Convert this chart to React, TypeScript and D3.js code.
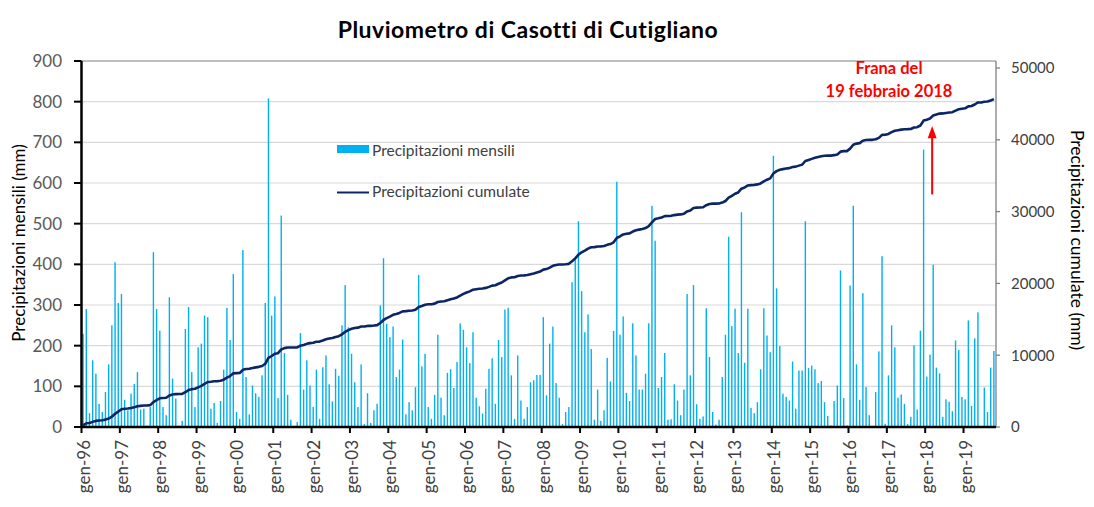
import React from "react";
import * as d3 from "d3";

// Monthly precipitation (mm), Jan 1996 – Oct 2019
const y1996 = [229, 290, 34, 164, 131, 57, 37, 86, 154, 250, 405, 305];
const y1997 = [327, 67, 41, 82, 106, 135, 43, 45, 4, 49, 430, 290];
const y1998 = [237, 49, 29, 319, 119, 70, 4, 15, 241, 295, 135, 49];
const y1999 = [196, 205, 274, 270, 45, 59, 10, 64, 141, 293, 214, 376];
const y2000 = [37, 20, 435, 123, 31, 102, 83, 74, 127, 305, 808, 274];
const y2001 = [321, 71, 520, 182, 79, 18, 2, 12, 231, 92, 164, 102];
const y2002 = [49, 141, 20, 147, 176, 105, 63, 143, 126, 250, 349, 245];
const y2003 = [180, 110, 49, 154, 7, 83, 10, 41, 57, 299, 415, 254];
const y2004 = [221, 247, 123, 141, 215, 31, 61, 41, 98, 374, 149, 180];
const y2005 = [49, 20, 79, 227, 72, 29, 133, 142, 96, 160, 255, 239];
const y2006 = [196, 157, 233, 72, 51, 33, 94, 143, 169, 57, 214, 172];
const y2007 = [289, 293, 127, 20, 176, 65, 20, 49, 110, 115, 128, 128];
const y2008 = [270, 78, 205, 247, 108, 72, 7, 37, 49, 356, 413, 506];
const y2009 = [334, 233, 277, 192, 18, 92, 15, 41, 170, 112, 236, 603];
const y2010 = [227, 272, 84, 64, 255, 176, 92, 92, 131, 255, 544, 458];
const y2011 = [96, 123, 182, 18, 19, 105, 65, 29, 92, 327, 127, 349];
const y2012 = [56, 20, 26, 292, 172, 37, 6, 18, 123, 227, 468, 248];
const y2013 = [291, 182, 528, 158, 291, 47, 34, 61, 142, 292, 225, 184];
const y2014 = [667, 341, 199, 82, 74, 65, 161, 45, 139, 139, 506, 145];
const y2015 = [151, 142, 108, 113, 61, 27, 4, 64, 102, 385, 71, 4];
const y2016 = [348, 544, 154, 67, 329, 98, 29, 0, 86, 186, 420, 8];
const y2017 = [127, 250, 196, 72, 80, 57, 7, 25, 201, 43, 237, 682];
const y2018 = [124, 178, 399, 146, 132, 25, 68, 62, 39, 213, 189, 74];
const y2019 = [68, 262, 52, 218, 282, 0, 97, 37, 146, 187];

const monthly: number[] = [
  ...y1996, ...y1997, ...y1998, ...y1999, ...y2000, ...y2001, ...y2002, ...y2003,
  ...y2004, ...y2005, ...y2006, ...y2007, ...y2008, ...y2009, ...y2010, ...y2011,
  ...y2012, ...y2013, ...y2014, ...y2015, ...y2016, ...y2017, ...y2018, ...y2019,
];

// cumulative precipitation = running sum of monthly values
const cumulative: number[] = Array.from(d3.cumsum(monthly));

const yearLabels = [
  "gen-96", "gen-97", "gen-98", "gen-99", "gen-00", "gen-01", "gen-02", "gen-03",
  "gen-04", "gen-05", "gen-06", "gen-07", "gen-08", "gen-09", "gen-10", "gen-11",
  "gen-12", "gen-13", "gen-14", "gen-15", "gen-16", "gen-17", "gen-18", "gen-19",
];
const leftTicks = [0, 100, 200, 300, 400, 500, 600, 700, 800, 900];
const rightTicks = [0, 10000, 20000, 30000, 40000, 50000];

const title = "Pluviometro di Casotti di Cutigliano";
const legendLabels = ["Precipitazioni mensili", "Precipitazioni cumulate"];
const annotationLines = ["Frana del", "19 febbraio 2018"];
const landslideMonth = 265 + 19 / 28; // 19 Feb 2018 as month index

const W = 1094;
const H = 507;
const FONT = "Lato, 'Open Sans', 'Liberation Sans', sans-serif";
const BAR = "#00B0F0";
const LINE = "#0B2565";

export default function App() {
  const left = 81.5;
  const right = 996;
  const top = 61;
  const bottom = 427;

  const nMonths = monthly.length; // 286
  const x = d3.scaleLinear().domain([0, nMonths]).range([left, right - 0.5]);
  const yL = d3.scaleLinear().domain([0, 900]).range([bottom, top]);
  const yR = d3.scaleLinear().domain([0, 50000]).range([bottom, 68]);

  const line = d3
    .line<number>()
    .x((_, i) => x(i + 0.5))
    .y((d) => yR(d));

  const bw = 1.4;
  const ax = x(landslideMonth + 0.5);

  return (
    <svg
      width={W}
      height={H}
      viewBox={`0 0 ${W} ${H}`}
      style={{ position: "absolute", left: 0, top: 0, background: "#fff" }}
      fontFamily={FONT}
    >
      <rect x={0} y={0} width={W} height={H} fill="#fff" />
      <text x={528} y={38} textAnchor="middle" fontSize={23} fontWeight="bold" letterSpacing={0.5} fill="#000">
        {title}
      </text>

      {/* gridlines */}
      {leftTicks.slice(1, -1).map((t) => (
        <line key={"g" + t} x1={left} x2={right} y1={yL(t)} y2={yL(t)} stroke="#d9d9d9" strokeWidth={1.2} />
      ))}
      {/* top border */}
      <line x1={left} x2={right} y1={top} y2={top} stroke="#808080" strokeWidth={1.2} />

      {/* bars */}
      {monthly.map((v, i) => (
        <rect key={"b" + i} x={x(i + 0.5) - bw / 2} y={yL(v)} width={bw} height={bottom - yL(v)} fill={BAR} />
      ))}

      {/* cumulative line */}
      <path d={line(cumulative) || ""} fill="none" stroke={LINE} strokeWidth={2.6} strokeLinejoin="round" />

      {/* left axis */}
      <line x1={left} x2={left} y1={top} y2={bottom + 1} stroke="#000" strokeWidth={2.5} />
      {leftTicks.map((t) => (
        <g key={"l" + t}>
          <line x1={74} x2={left} y1={yL(t)} y2={yL(t)} stroke="#000" strokeWidth={2} />
          <text x={62} y={yL(t)} dy="0.36em" textAnchor="end" fontSize={17} fill="#595959">
            {t}
          </text>
        </g>
      ))}

      {/* right axis */}
      <line x1={right} x2={right} y1={top} y2={bottom} stroke="#808080" strokeWidth={1.3} />
      {rightTicks.map((t) => (
        <g key={"r" + t}>
          <line x1={right} x2={right + 4} y1={yR(t)} y2={yR(t)} stroke="#808080" strokeWidth={1.3} />
          <text x={1011} y={yR(t)} dy="0.36em" textAnchor="start" fontSize={15} fill="#404040">
            {t}
          </text>
        </g>
      ))}

      {/* bottom axis */}
      <line x1={left - 1} x2={right} y1={bottom} y2={bottom} stroke="#000" strokeWidth={2.5} />
      {yearLabels.map((lab, k) => {
        const tx = x(k * 12);
        return (
          <g key={"x" + k}>
            <line x1={tx} x2={tx} y1={bottom} y2={bottom + 6} stroke="#000" strokeWidth={2} />
            <text
              transform={`translate(${tx + 8},${bottom + 13}) rotate(-90)`}
              textAnchor="end"
              fontSize={17}
              fill="#404040"
            >
              {lab}
            </text>
          </g>
        );
      })}

      {/* axis titles */}
      <text transform={`translate(25,243) rotate(-90)`} textAnchor="middle" fontSize={17} fill="#000">
        Precipitazioni mensili (mm)
      </text>
      <text transform={`translate(1071,240) rotate(90)`} textAnchor="middle" fontSize={17.5} fill="#000">
        Precipitazioni cumulate (mm)
      </text>

      {/* legend */}
      <rect x={337} y={145} width={32} height={8} fill={BAR} />
      <text x={372} y={156} fontSize={15.5} fill="#404040">
        {legendLabels[0]}
      </text>
      <line x1={337} x2={369} y1={192.5} y2={192.5} stroke={LINE} strokeWidth={2} />
      <text x={372} y={197} fontSize={15.5} fill="#404040">
        {legendLabels[1]}
      </text>

      {/* annotation */}
      <text x={889} y={74} textAnchor="middle" fontSize={16.5} fontWeight="bold" fill="#FF0000">
        {annotationLines[0]}
      </text>
      <text x={889} y={96.5} textAnchor="middle" fontSize={16.5} fontWeight="bold" fill="#FF0000">
        {annotationLines[1]}
      </text>
      <line x1={ax} x2={ax} y1={yL(572)} y2={yL(712)} stroke="#FF0000" strokeWidth={2} />
      <path
        d={`M${ax},${yL(740)} L${ax - 4.5},${yL(710)} L${ax + 4.5},${yL(710)} Z`}
        fill="#FF0000"
      />
    </svg>
  );
}
